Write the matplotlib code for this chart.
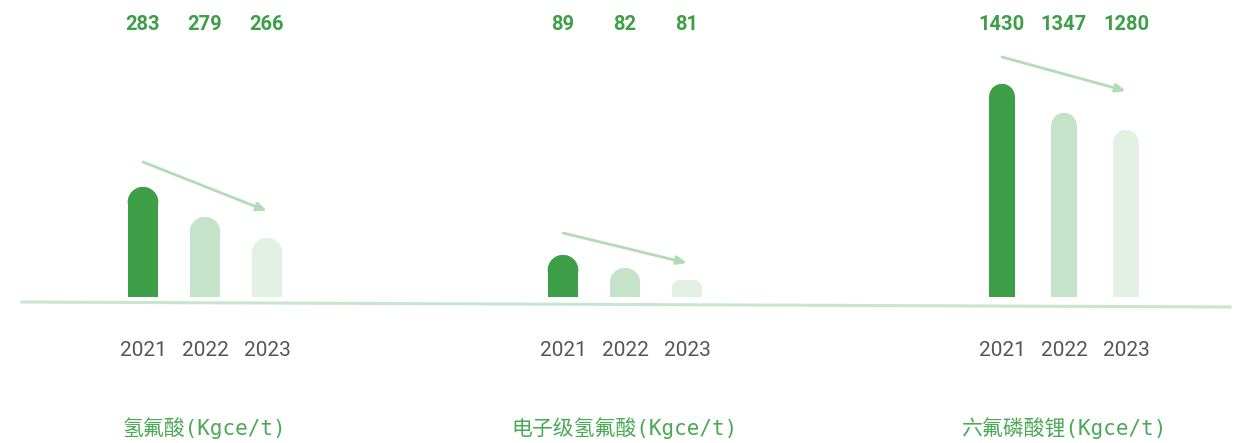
import matplotlib
matplotlib.use("Agg")
import matplotlib.pyplot as plt
from matplotlib.patches import Ellipse, Rectangle
from matplotlib.lines import Line2D

# data
categories = ["氢氟酸(Kgce/t)", "电子级氢氟酸(Kgce/t)", "六氟磷酸锂(Kgce/t)"]
years = ["2021", "2022", "2023"]
values_hf = [283, 279, 266]
values_ehf = [89, 82, 81]
values_lipf6 = [1430, 1347, 1280]
# drawn bar levels (decorative, not to scale)
levels_hf = [110, 80, 59]
levels_ehf = [42, 29, 17]
levels_lipf6 = [213, 184, 167]
arrow_from = [135, 64, 240]
arrow_to = [86, 34, 206]

values = [values_hf, values_ehf, values_lipf6]
levels = [levels_hf, levels_ehf, levels_lipf6]

bar_colors = ["#3d9f48", "#c5e3c9", "#e2f1e4"]
arrow_color = "#b3dbb8"
green_txt = "#3d9f48"
cat_txt = "#4aa954"
grey_txt = "#555555"

W, H = 1248, 443
fig = plt.figure(figsize=(W / 100, H / 100), dpi=100)

centers = [205, 625, 1064]
bar_w = [0.49, 0.49, 0.41]
base_px = 297
ax_w = 300
unit = 62  # pixels per bar step


def round_bar(ax, x, h, w, color):
    # bar with rounded top corners, radius capped by half the height
    r = min(w * unit / 2, h / 2)
    rx = r / unit
    ax.add_patch(Rectangle((x - w / 2, 0), w, h - r, color=color, lw=0))
    ax.add_patch(Rectangle((x - w / 2 + rx, 0), w - 2 * rx, h, color=color, lw=0))
    for cx in (x - w / 2 + rx, x + w / 2 - rx):
        ax.add_patch(Ellipse((cx, h - r), 2 * rx, 2 * r, color=color, lw=0))


for g in range(3):
    left = (centers[g] - ax_w / 2) / W
    ax = fig.add_axes([left, (H - base_px) / H, ax_w / W, base_px / H])
    half = ax_w / 2 / unit
    ax.set_xlim(1 - half, 1 + half)
    ax.set_ylim(0, base_px)
    ax.axis("off")
    for i in range(len(years)):
        round_bar(ax, i, levels[g][i], bar_w[g], bar_colors[i])
        ax.text(i, base_px - 24, str(values[g][i]), ha="center", va="center",
                fontsize=14.5, fontweight="bold", color=green_txt,
                family="Roboto", clip_on=False)
        ax.text(i, -53, years[i], ha="center", va="center", fontsize=15,
                color=grey_txt, family="Roboto", clip_on=False)
    ax.annotate("", xy=(2, arrow_to[g]), xytext=(0, arrow_from[g]),
                arrowprops=dict(arrowstyle="-|>,head_length=0.6,head_width=0.25",
                                color=arrow_color, lw=2, shrinkA=0, shrinkB=0))
    ax.text(1, -131, categories[g], ha="center", va="center", fontsize=15,
            color=cat_txt, family=["DejaVu Sans Mono", "Noto Sans CJK SC"],
            clip_on=False)

fig.add_artist(Line2D([22 / W, 1230 / W], [1 - 302 / H, 1 - 307 / H],
                      color="#c8e6cc", lw=2.2, transform=fig.transFigure))

fig.savefig("out.png", dpi=100)
